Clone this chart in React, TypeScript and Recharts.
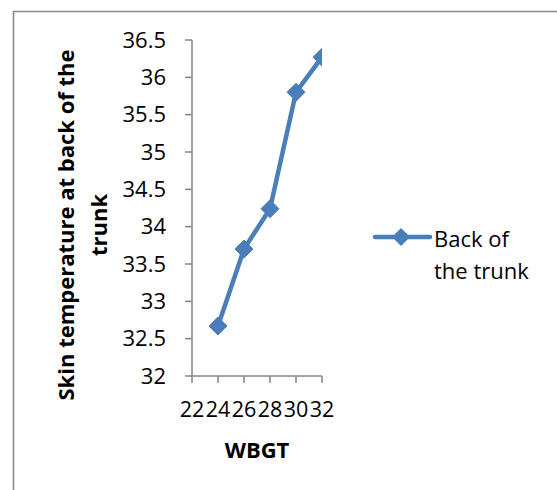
import React from 'react';
import { LineChart, Line, XAxis, YAxis, Legend } from 'recharts';

// WBGT readings and skin temperature at the back of the trunk
const wbgtValues = [24, 26, 28, 30, 32];
const backTrunkTemps = [32.67, 33.7, 34.24, 35.8, 36.27];
const xTicks = [22, 24, 26, 28, 30, 32];
const yTicks = [32, 32.5, 33, 33.5, 34, 34.5, 35, 35.5, 36, 36.5];

const seriesName = 'Back of the trunk';
const legendLines = ['Back of', 'the trunk'];
const yTitleLines = ['Skin temperature at back of the', 'trunk'];
const xTitle = 'WBGT';

const data = wbgtValues.map((w, i) => ({ wbgt: w, temp: backTrunkTemps[i] }));

const BLUE = '#4A7EBB';
const AXIS = '#868686';
const FONT = '"Open Sans", sans-serif';

const Diamond = (props: any) => {
  const { cx, cy } = props;
  if (cx == null || cy == null) return null;
  const r = 9;
  return (
    <path
      d={`M${cx},${cy - r}L${cx + r},${cy}L${cx},${cy + r}L${cx - r},${cy}Z`}
      fill={BLUE}
      stroke={BLUE}
      strokeWidth={1}
    />
  );
};

const YTitle = () => (
  <g fontFamily={FONT} fontSize={22} fontWeight={700} fill="#000">
    <text x={74} y={225} transform="rotate(-90 74 225)" textAnchor="middle">
      {yTitleLines[0]}
    </text>
    <text x={107} y={225} transform="rotate(-90 107 225)" textAnchor="middle">
      {yTitleLines[1]}
    </text>
  </g>
);

const XTitle = () => (
  <text x={257} y={458} textAnchor="middle" fontFamily={FONT} fontSize={22} fontWeight={700} fill="#000">
    {xTitle}
  </text>
);

const LegendContent = () => (
  <svg width={180} height={80} style={{ display: 'block', overflow: 'visible' }}>
    <line x1={2} y1={16} x2={57} y2={16} stroke={BLUE} strokeWidth={4.5} strokeLinecap="round" />
    <path d="M28,7L37,16L28,25L19,16Z" fill={BLUE} />
    <text x={61} y={26} fontFamily={FONT} fontSize={22} fill="#000">
      {legendLines[0]}
    </text>
    <text x={61} y={58} fontFamily={FONT} fontSize={22} fill="#000">
      {legendLines[1]}
    </text>
  </svg>
);

export default function App() {
  return (
    <div style={{ position: 'absolute', left: 0, top: 0, width: 557, height: 490, background: '#fff', overflow: 'hidden' }}>
      <svg width={557} height={490} style={{ position: 'absolute', left: 0, top: 0 }}>
        <polyline points="13.5,500 13.5,11.5 560,11.5" fill="none" stroke="#8a8a8a" strokeWidth={1.6} />
      </svg>
      <div style={{ position: 'absolute', left: 0, top: 0 }}>
        <LineChart
          width={557}
          height={490}
          data={data}
          margin={{ top: 40, right: 235, bottom: 54, left: 0 }}
        >
          <XAxis
            dataKey="wbgt"
            type="number"
            domain={[22, 32]}
            ticks={xTicks}
            interval={0}
            allowDataOverflow
            height={60}
            tickSize={7}
            tickMargin={19}
            axisLine={{ stroke: AXIS, strokeWidth: 1.5 }}
            tickLine={{ stroke: AXIS, strokeWidth: 1.5 }}
            tick={{ fontSize: 21.5, fill: '#000', fontFamily: FONT }}
            label={<XTitle />}
          />
          <YAxis
            type="number"
            domain={[32, 36.5]}
            ticks={yTicks}
            interval={0}
            width={192}
            tickSize={7}
            tickMargin={19}
            axisLine={{ stroke: AXIS, strokeWidth: 1.5 }}
            tickLine={{ stroke: AXIS, strokeWidth: 1.5 }}
            tick={{ fontSize: 22, fill: '#000', fontFamily: FONT }}
            label={<YTitle />}
          />
          <Legend
            layout="vertical"
            align="center"
            verticalAlign="middle"
            content={<LegendContent />}
            wrapperStyle={{ left: 373, top: 221, width: 180, height: 80 }}
          />
          <Line
            name={seriesName}
            type="linear"
            dataKey="temp"
            stroke={BLUE}
            strokeWidth={4.5}
            dot={<Diamond />}
            activeDot={false}
            isAnimationActive={false}
          />
        </LineChart>
      </div>
    </div>
  );
}
